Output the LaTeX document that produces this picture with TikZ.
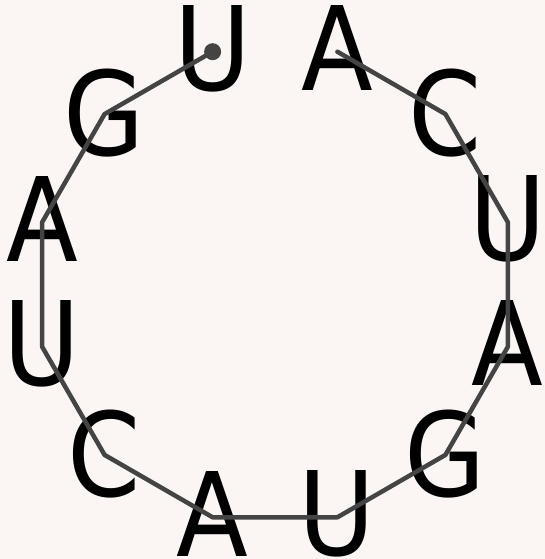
\documentclass[tikz,border=0pt]{standalone}
\usepackage{fontspec}
\setmainfont{DejaVu Sans}
\newfontfamily\basefont{DejaVu Sans Condensed}
\usetikzlibrary{calc}
\definecolor{bgc}{HTML}{FBF6F4}
\definecolor{linec}{HTML}{444444}
\tikzset{
  base/.style={inner sep=0pt, outer sep=0pt, text=black, font=\basefont\fontsize{116.6}{120}\selectfont},
  backbone/.style={draw=linec, line width=4.5pt, line cap=round, line join=round},
  startdot/.style={circle, fill=linec, inner sep=0pt, minimum size=17pt}
}
\begin{document}
\begin{tikzpicture}
\fill[bgc] (0pt,0pt) rectangle (545pt,-559pt);
\useasboundingbox (0pt,0pt) rectangle (545pt,-559pt);
\coordinate (c) at (275pt,-284.5pt);
\foreach \i/\a in {1/105,2/135,3/165,4/195,5/225,6/255,7/285,8/315,9/345,10/375,11/405,12/435}{
  \coordinate (v\i) at ($(c)+(\a:241pt)$);
}
% letters
\node[base] (n1)  at ([yshift=3pt]v1)  {U};
\node[base] (n2)  at ([yshift=1pt]v2)  {G};
\node[base] (n3)  at ([yshift=3.5pt]v3)  {A};
\node[base] (n4)  at ([yshift=3pt]v4)  {U};
\node[base] (n5)  at ([yshift=1pt]v5)  {C};
\node[base] (n6)  at ([yshift=3.5pt]v6)  {A};
\node[base] (n7)  at ([yshift=3pt]v7)  {U};
\node[base] (n8)  at ([yshift=1pt]v8)  {G};
\node[base] (n9)  at ([yshift=3.5pt]v9)  {A};
\node[base] (n10) at ([yshift=3pt]v10) {U};
\node[base] (n11) at ([yshift=1pt]v11) {C};
\node[base] (n12) at ([yshift=3.5pt]v12) {A};
% backbone
\draw[backbone] (v1) -- (v2) -- (v3) -- (v4) -- (v5) -- (v6) -- (v7) -- (v8) -- (v9) -- (v10) -- (v11) -- (v12);
\node[startdot] (s) at (v1) {};
\end{tikzpicture}
\end{document}
